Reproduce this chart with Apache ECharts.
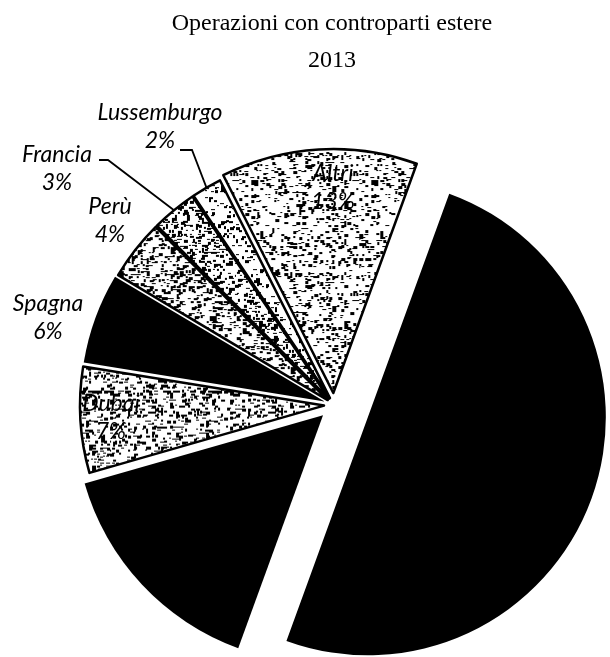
<!DOCTYPE html>
<html>
<head>
<meta charset="utf-8">
<script src="https://cdn.jsdelivr.net/npm/echarts@6/dist/echarts.min.js"></script>
<style>
  html, body { margin: 0; padding: 0; background: #ffffff; }
  #chart { width: 610px; height: 657px; }
</style>
</head>
<body>
<div id="chart"></div>
<script>
// Quote delle operazioni con controparti estere, 2013 (percentuali)
const categories = ['Quota principale', 'Seconda quota', 'Dubai', 'Spagna', 'Perù', 'Francia', 'Lussemburgo', 'Altri'];
const shares = [50, 15, 7, 6, 4, 3, 2, 13];
// which slices carry a printed label
const showLabel = [false, false, true, true, true, true, true, true];

const titleLines = ['Operazioni con controparti estere', '2013'];

// ---- styling -------------------------------------------------------------
const pieCenter = [334, 405];
const startDeg = 20;                  // first slice starts 20° clockwise from 12 o'clock
const radii = [238, 248, 244, 244, 244, 244, 244, 244];
const explode = [36, 15, 10, 10, 8, 8, 8, 12];

// blotchy speckled fill, built from a deterministic hash
function hash(a, b) {
  const h = Math.sin(a * 12.9898 + b * 78.233) * 43758.5453;
  return h - Math.floor(h);
}
function speckle(density, seed) {
  const size = 120;
  const cell = 3;
  const c = document.createElement('canvas');
  c.width = size; c.height = size;
  const g = c.getContext('2d');
  g.fillStyle = '#ffffff';
  g.fillRect(0, 0, size, size);
  g.fillStyle = '#000000';
  for (let y = 0; y < size; y += cell) {
    for (let x = 0; x < size; x += cell) {
      const f = hash(x + seed, y - seed * 3);
      if (f < density) {
        const r1 = hash(x * 1.7 + seed, y * 2.3);
        const r2 = hash(y * 1.3 - seed, x * 0.7);
        const w = 2 + Math.floor(r1 * 3);
        const h = 1 + Math.floor(r2 * 3);
        g.fillRect(x + Math.floor(r2 * 2) - 1, y + Math.floor(r1 * 2) - 1, w, h);
      }
    }
  }
  return { image: c, repeat: 'repeat' };
}

const fills = [
  '#000000',
  '#000000',
  speckle(0.42, 3),
  '#000000',
  speckle(0.50, 7),
  speckle(0.52, 11),
  speckle(0.30, 5),
  speckle(0.34, 9)
];
const outline = [0, 0, 2.5, 0, 2.5, 2.5, 2.5, 2.5];

// label placement (text block centre) and leader line bends
const labelAt = {
  'Lussemburgo': { x: 160, y: 127, line: [[180, 150], [192, 150]] },
  'Francia':     { x: 57,  y: 169, line: [[99, 160], [108, 160]] },
  'Perù':        { x: 110, y: 221 },
  'Spagna':      { x: 48,  y: 318 },
  'Altri':       { x: 333, y: 188 },
  'Dubai':       { x: 111, y: 418 }
};

// one pie layer per slice so each slice gets its own explosion distance
const series = categories.map(function (_, k) {
  return {
    type: 'pie',
    center: pieCenter,
    radius: radii[k],
    startAngle: 90 - startDeg,
    clockwise: true,
    silent: true,
    animation: false,
    selectedMode: 'multiple',
    selectedOffset: explode[k],
    emphasis: { disabled: true },
    select: {
      itemStyle: { color: fills[k], borderColor: '#000000', borderWidth: outline[k] }
    },
    label: { show: false },
    labelLine: { show: false },
    data: categories.map(function (name, i) {
      const mine = i === k;
      return {
        name: name,
        value: shares[i],
        selected: mine,
        itemStyle: mine
          ? { color: fills[k], borderColor: '#000000', borderWidth: outline[k] }
          : { color: 'rgba(0,0,0,0)', borderWidth: 0 }
      };
    })
  };
});

// outer-rim midpoint of a slice, following the same angles the pie uses
const total = shares.reduce(function (s, v) { return s + v; }, 0);
function rimPoint(i) {
  let before = 0;
  for (let j = 0; j < i; j++) before += shares[j];
  const deg = startDeg + 360 * (before + shares[i] / 2) / total;
  const a = deg * Math.PI / 180;
  const d = radii[i] + explode[i];
  return [pieCenter[0] + Math.sin(a) * d, pieCenter[1] - Math.cos(a) * d];
}

const labelStyle = {
  fontFamily: 'Lato, "Open Sans", sans-serif',
  fontStyle: 'italic',
  fontSize: 23,
  lineHeight: 28,
  fill: '#000000',
  align: 'center',
  verticalAlign: 'middle'
};

const graphics = [];
categories.forEach(function (name, i) {
  if (!showLabel[i]) return;
  const spot = labelAt[name];
  graphics.push({
    type: 'text',
    x: spot.x, y: spot.y,
    z: 100,
    silent: true,
    style: Object.assign({ text: name + '\n' + shares[i] + '%' }, labelStyle)
  });
  if (spot.line) {
    graphics.push({
      type: 'polyline',
      z: 100,
      silent: true,
      shape: { points: [spot.line[0], spot.line[1], rimPoint(i)] },
      style: { stroke: '#000000', lineWidth: 1.8, fill: null }
    });
  }
});

const titleFont = { fontFamily: '"Liberation Serif", "DejaVu Serif", serif', fontSize: 24, fontWeight: 'normal', color: '#000000' };

const chart = echarts.init(document.getElementById('chart'), null, { renderer: 'canvas' });
chart.setOption({
  backgroundColor: '#ffffff',
  animation: false,
  title: [
    { text: titleLines[0], left: 327, top: 7, textAlign: 'center', textStyle: titleFont },
    { text: titleLines[1], left: 327, top: 44, textAlign: 'center', textStyle: titleFont }
  ],
  series: series,
  graphic: graphics
});
</script>
</body>
</html>
